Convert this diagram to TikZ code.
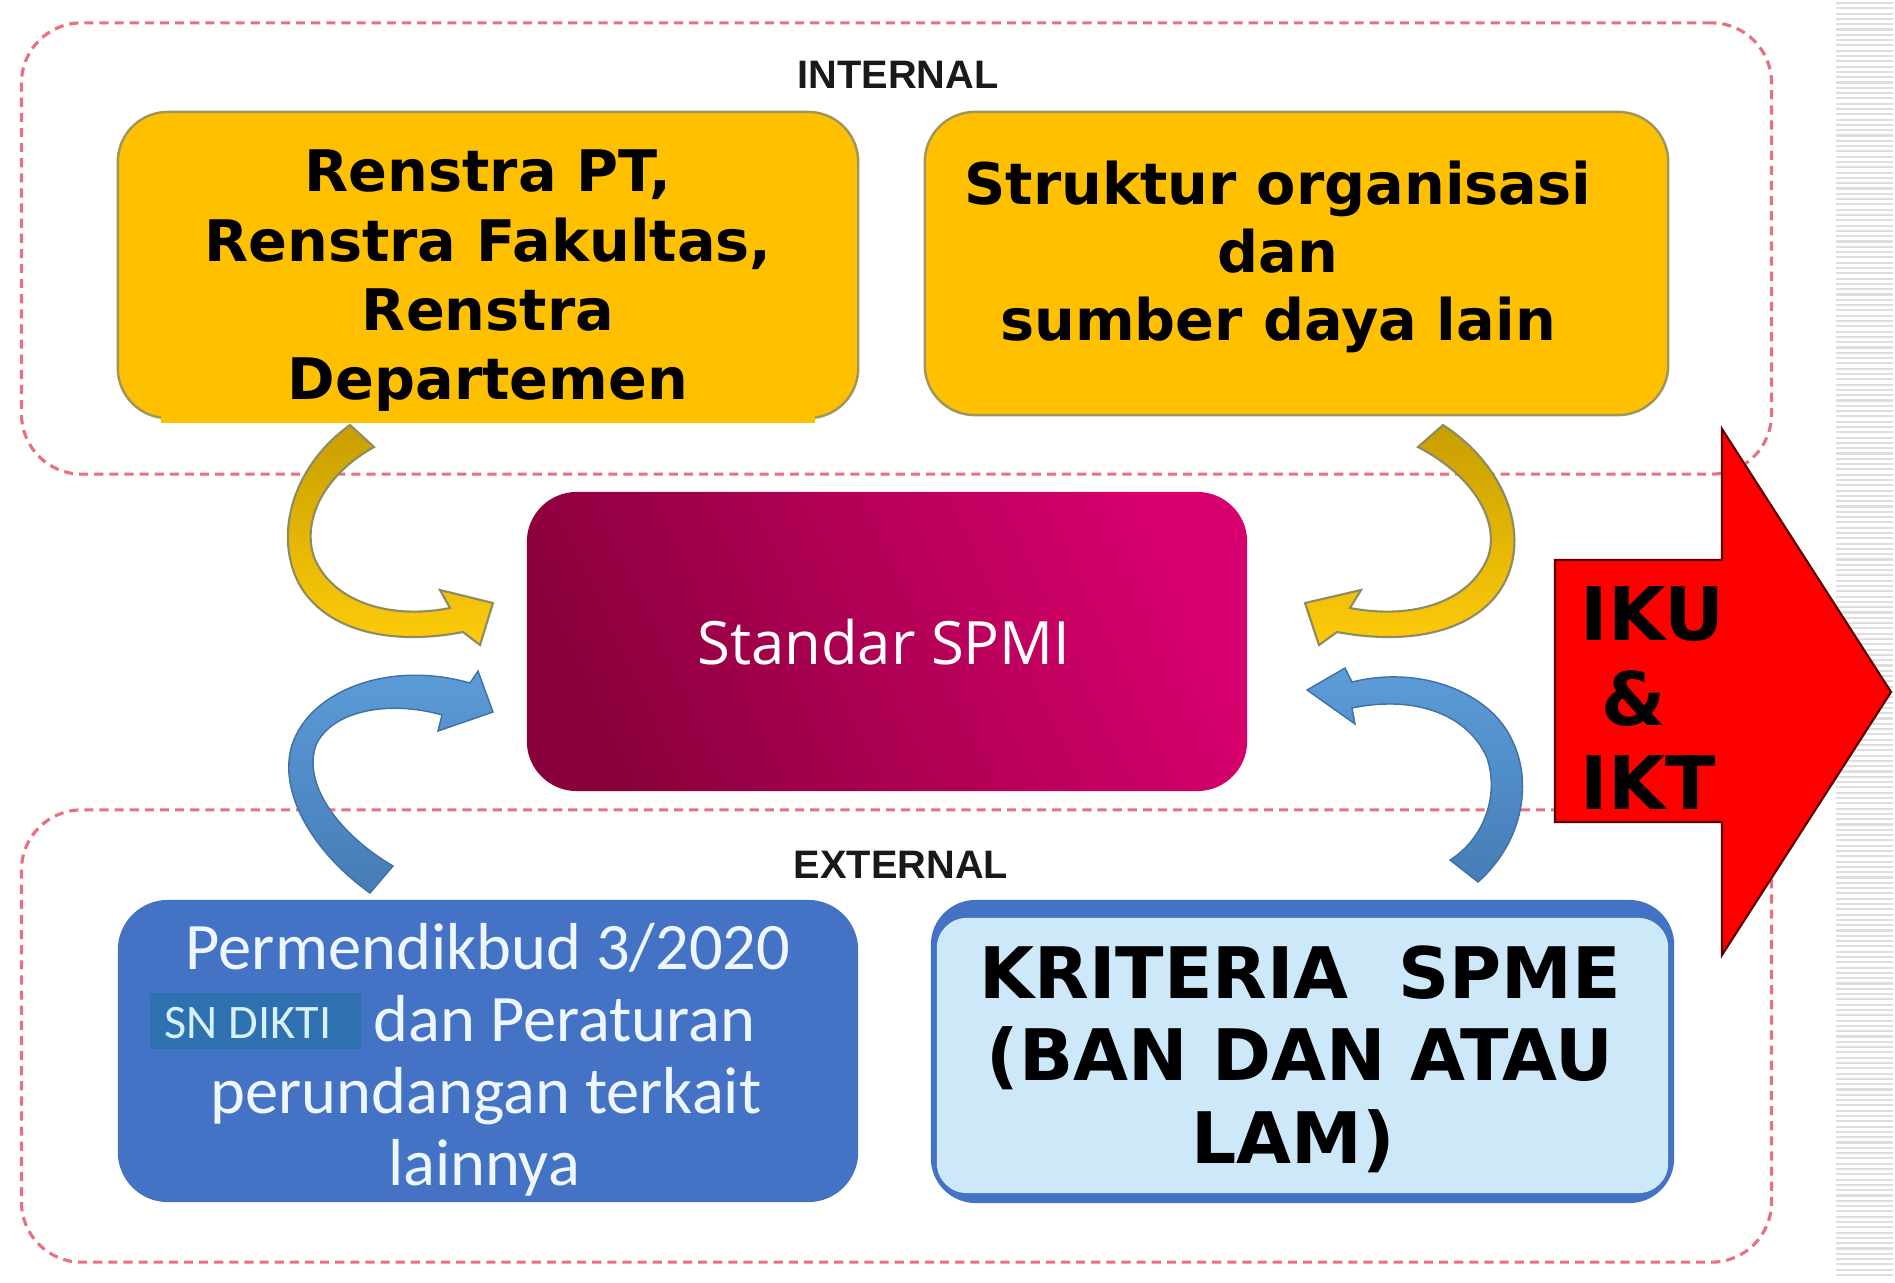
\documentclass[tikz,border=0pt]{standalone}
\usepackage{fontspec}
\setmainfont{DejaVu Sans}
\newfontfamily\verdfont{DejaVu Sans}
\newfontfamily\arialfont{Liberation Sans}
\newfontfamily\opensfont{Open Sans}
\newfontfamily\calfont{Carlito}

\definecolor{gold}{RGB}{255,192,0}
\definecolor{goldedge}{RGB}{160,150,90}
\definecolor{dashred}{RGB}{232,112,128}
\definecolor{magdark}{RGB}{138,0,60}
\definecolor{maglight}{RGB}{216,0,110}
\definecolor{boxblue}{RGB}{68,114,196}
\definecolor{sntag}{RGB}{46,112,176}
\definecolor{paleblue}{RGB}{205,233,249}
\definecolor{ytop}{RGB}{200,158,0}
\definecolor{ybot}{RGB}{255,204,10}
\definecolor{yedge}{RGB}{140,140,100}
\definecolor{btop}{RGB}{92,157,216}
\definecolor{bbot}{RGB}{70,124,184}
\definecolor{stripegray}{RGB}{222,222,222}
\definecolor{whitish}{RGB}{238,247,255}
\definecolor{snwhite}{RGB}{215,242,255}
\definecolor{arrowedge}{RGB}{90,0,0}

\tikzset{
  zone/.style={draw=dashred, line width=0.9pt, dash pattern=on 2.6pt off 1.7pt,
    rounded corners=0.6cm, inner sep=0pt},
  zonelabel/.style={font=\arialfont\bfseries\fontsize{11.3pt}{13pt}\selectfont,
    text={rgb,255:red,25;green,25;blue,25}, anchor=base, inner sep=0pt},
  goldbox/.style={fill=gold, draw=goldedge, line width=0.7pt, rounded corners=0.5cm, inner sep=0pt},
  ytext/.style={font=\verdfont\bfseries\fontsize{16.3pt}{18pt}\selectfont, anchor=base, inner sep=0pt},
  btext/.style={font=\calfont\fontsize{18.9pt}{22pt}\selectfont, text=whitish, anchor=base, inner sep=0pt},
  ktext/.style={font=\verdfont\bfseries\fontsize{20.2pt}{24pt}\selectfont, anchor=base, inner sep=0pt},
  itext/.style={font=\verdfont\bfseries\fontsize{21pt}{24pt}\selectfont, anchor=base west, inner sep=0pt},
  yarrow/.style={top color=ytop, bottom color=ybot, draw=yedge, line width=0.6pt},
  barrow/.style={top color=btop, bottom color=bbot, draw=bbot!90!black, line width=0.4pt},
  stripeline/.style={draw=stripegray, line width=0.6pt},
}

\begin{document}
\begin{tikzpicture}[x=0.01cm, y=-0.01cm]
  % canvas
  \path[fill=white] (0,0) rectangle (1895,1282);
  \useasboundingbox (0,0) rectangle (1895,1282);

  % ruled margin on the right
  \foreach \k in {0,...,240} {
    \draw[stripeline] (1836,{3+5.3*\k}) -- (1893,{3+5.3*\k});
  }

  % dashed zones
  \node[zone, minimum width=17.49cm, minimum height=4.51cm] (internal) at (896.5,248.5) {};
  \node[zone, minimum width=17.49cm, minimum height=4.52cm] (external) at (896.5,1036) {};
  \node[zonelabel] (intlabel) at (898,89) {INTERNAL};
  \node[zonelabel] (extlabel) at (901,878) {EXTERNAL};

  % internal sources
  \node[goldbox, minimum width=7.40cm, minimum height=3.06cm] (renstra) at (488,265) {};
  \fill[gold] (161,390) rectangle (815,423);
  \node[ytext] (r1) at (488,192) {Renstra PT,};
  \node[ytext] (r2) at (488,261) {Renstra Fakultas,};
  \node[ytext] (r3) at (488,330) {Renstra};
  \node[ytext] (r4) at (488,399) {Departemen};

  \node[goldbox, minimum width=7.43cm, minimum height=3.03cm] (struktur) at (1296.5,263.5) {};
  \node[ytext] (s1) at (1278,204) {Struktur organisasi};
  \node[ytext] (s2) at (1278,272) {dan};
  \node[ytext] (s3) at (1278,340) {sumber daya lain};

  % central standard
  \node[rounded corners=0.5cm, top color=maglight, bottom color=magdark, shading angle=-65,
        minimum width=7.20cm, minimum height=2.99cm, inner sep=0pt] (spmi) at (887,641.5) {};
  \node[font=\opensfont\fontsize{17pt}{20pt}\selectfont, text=white, anchor=base, inner sep=0pt]
        (spmitext) at (884,664) {Standar SPMI};

  % external sources
  \node[fill=boxblue, rounded corners=0.5cm, minimum width=7.40cm, minimum height=3.02cm,
        inner sep=0pt] (permen) at (488,1051) {};
  \node[btext] (p1) at (488,969) {Permendikbud 3/2020};
  \node[fill=sntag, minimum width=2.11cm, minimum height=0.56cm, inner sep=0pt] (sntagbox) at (255.5,1021) {};
  \node[font=\calfont\fontsize{13.7pt}{16pt}\selectfont, text=snwhite, anchor=base, inner sep=0pt]
        (sntext) at (248,1038) {SN DIKTI};
  \node[btext, anchor=base west] (p2) at (373,1041) {dan Peraturan};
  \node[btext] (p3) at (486,1113) {perundangan terkait};
  \node[btext] (p4) at (484,1185) {lainnya};

  \node[fill=boxblue, rounded corners=0.45cm, minimum width=7.43cm, minimum height=3.03cm,
        inner sep=0pt] (kriteria) at (1302.5,1051.5) {};
  \node[fill=paleblue, rounded corners=0.3cm, minimum width=7.31cm, minimum height=2.75cm,
        inner sep=0pt] (kriteriain) at (1302.5,1055.5) {};
  \node[ktext] (k1) at (1300,998) {KRITERIA\ \ SPME};
  \node[ktext] (k2) at (1300,1080) {(BAN DAN ATAU};
  \node[ktext] (k3) at (1293,1163) {LAM)};

  % curved arrows into the standard: internal (gold)
  \path[yarrow] (350,425) .. controls (298,462) and (275,525) .. (295,575)
     .. controls (315,625) and (380,648) .. (463,632) -- (480,645) -- (493,603) -- (440,590)
     -- (450,608) .. controls (390,620) and (332,602) .. (314,557)
     .. controls (302,522) and (322,476) .. (374,447) -- cycle;
  \path[yarrow] (1443,425) .. controls (1500,462) and (1528,525) .. (1508,575)
     .. controls (1488,625) and (1423,648) .. (1337,632) -- (1319,645) -- (1305,603) -- (1361,590)
     -- (1350,608) .. controls (1413,620) and (1470,602) .. (1488,557)
     .. controls (1500,522) and (1474,476) .. (1418,447) -- cycle;

  % curved arrows into the standard: external (blue)
  \path[barrow] (370,893) .. controls (310,850) and (278,790) .. (292,745)
     .. controls (310,690) and (390,660) .. (470,683) -- (478,671) -- (493,712) -- (438,731)
     -- (442,715) .. controls (390,700) and (332,710) .. (316,745)
     .. controls (302,785) and (340,835) .. (393,866) -- cycle;
  \path[barrow] (1478,882) .. controls (1525,840) and (1532,780) .. (1512,740)
     .. controls (1490,692) and (1420,665) .. (1352,682) -- (1345,668) -- (1307,690) -- (1355,724)
     -- (1352,708) .. controls (1420,694) and (1470,718) .. (1487,758)
     .. controls (1500,798) and (1482,840) .. (1450,860) -- cycle;

  % outcome arrow
  \path[fill=red, draw=arrowedge, line width=0.6pt]
     (1555,560) -- (1722,560) -- (1722,429) -- (1891,692) -- (1722,955) -- (1722,822)
     -- (1555,822) -- cycle;
  \node[itext] (iku) at (1580,640) {IKU};
  \node[itext] (amp) at (1601,725) {\&};
  \node[itext] (ikt) at (1580,809) {IKT};
\end{tikzpicture}
\end{document}
